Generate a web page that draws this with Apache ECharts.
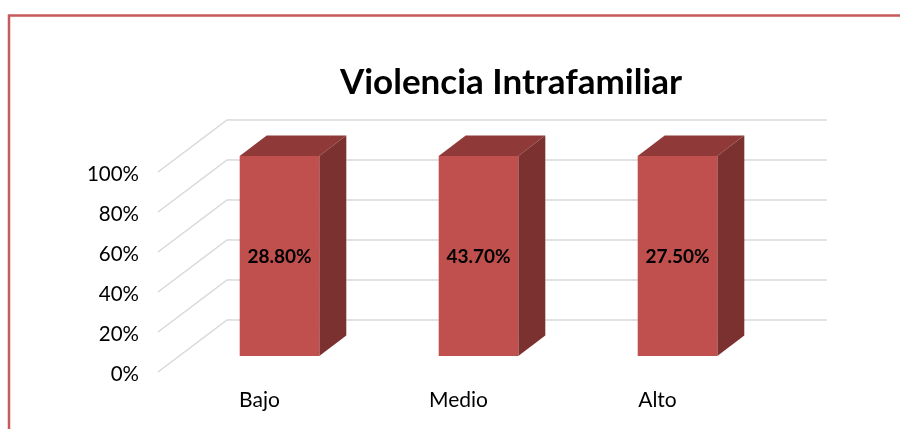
<!DOCTYPE html>
<html><head><meta charset="utf-8">
<style>html,body{margin:0;padding:0;background:#fff}#c{width:900px;height:429px}</style>
<script src="https://cdn.jsdelivr.net/npm/echarts@6/dist/echarts.min.js"></script>
</head><body><div id="c"></div>
<script>
const categories = ['Bajo', 'Medio', 'Alto'];
const stackedHeights = [100, 100, 100];
const shownLabels = ['28.80%', '43.70%', '27.50%'];
const gridTicks = [0, 20, 40, 60, 80, 100];
const titleText = 'Violencia Intrafamiliar';

const FONT = 'Lato, Carlito, sans-serif';
const WALL = { dx: 69, dy: -52, lift: -2 };
const BAR_DEPTH = { dx: 27, dy: -20.5 };
const BAR_SHIFT = { dx: 20, dy: -18 };

const chart = echarts.init(document.getElementById('c'), null, { renderer: 'canvas' });
chart.setOption({
  animation: false,
  backgroundColor: '#fff',
  title: {
    text: titleText, left: 506, top: 78, textAlign: 'center', textVerticalAlign: 'middle',
    textStyle: { fontFamily: FONT, fontWeight: 'bold', fontSize: 35, color: '#000' }
  },
  graphic: [{
    type: 'polyline', silent: true,
    shape: { points: [[9, 429], [9, 15.5], [900, 15.5]] },
    style: { stroke: '#C75A5A', lineWidth: 2.5, fill: null }
  }],
  grid: { left: 160, width: 597, top: 174, height: 200 },
  xAxis: {
    type: 'category', data: categories,
    axisLine: { show: false }, axisTick: { show: false },
    axisLabel: { fontFamily: FONT, fontSize: 21, color: '#000', margin: 16 }
  },
  yAxis: {
    type: 'value', min: 0, max: 100, interval: 20,
    axisLine: { show: false }, axisTick: { show: false }, splitLine: { show: false },
    axisLabel: { fontFamily: FONT, fontSize: 20.5, color: '#000', margin: 21, formatter: '{value}%' }
  },
  series: [
    {
      type: 'custom', name: 'walls', silent: true, z: 1,
      data: gridTicks.map(t => [0, t]),
      renderItem(params, api) {
        const y = api.coord([0, api.value(1)])[1] + WALL.lift;
        const cs = params.coordSys;
        const x0 = cs.x - 2;
        const x1 = cs.x + WALL.dx - 2;
        const x2 = cs.x + cs.width + WALL.dx + 1;
        const y1 = y + WALL.dy;
        return {
          type: 'polyline',
          shape: { points: [[x0, y], [x1, y1], [x2, y1]] },
          style: { stroke: '#D9D9D9', lineWidth: 1.5, fill: null }
        };
      }
    },
    {
      type: 'custom', name: 'Violencia Intrafamiliar', silent: true, z: 2,
      encode: { x: 0, y: 1 },
      data: stackedHeights.map((h, i) => [i, h, shownLabels[i]]),
      renderItem(params, api) {
        const cat = api.value(0);
        const top = api.coord([cat, api.value(1)]);
        const base = api.coord([cat, 0]);
        const w = api.size([1, 0])[0] * 0.4;
        const l = top[0] - w / 2 + BAR_SHIFT.dx, r = l + w;
        const t = top[1] + BAR_SHIFT.dy, b = base[1] + BAR_SHIFT.dy;
        const dx = BAR_DEPTH.dx, dy = BAR_DEPTH.dy;
        return {
          type: 'group',
          children: [
            { type: 'polygon', shape: { points: [[l, t], [r, t], [r + dx, t + dy], [l + dx, t + dy]] },
              style: { fill: '#8F3A38' } },
            { type: 'polygon', shape: { points: [[r, t], [r + dx, t + dy], [r + dx, b + dy], [r, b]] },
              style: { fill: '#7B3130' } },
            { type: 'rect', shape: { x: l, y: t, width: w, height: b - t },
              style: { fill: '#C0504D' } },
            { type: 'text', x: (l + r) / 2, y: (t + b) / 2 + 1,
              style: { text: api.value(2), fill: '#000', align: 'center', verticalAlign: 'middle',
                       font: 'bold 19px ' + FONT } }
          ]
        };
      }
    }
  ]
});
</script></body></html>
